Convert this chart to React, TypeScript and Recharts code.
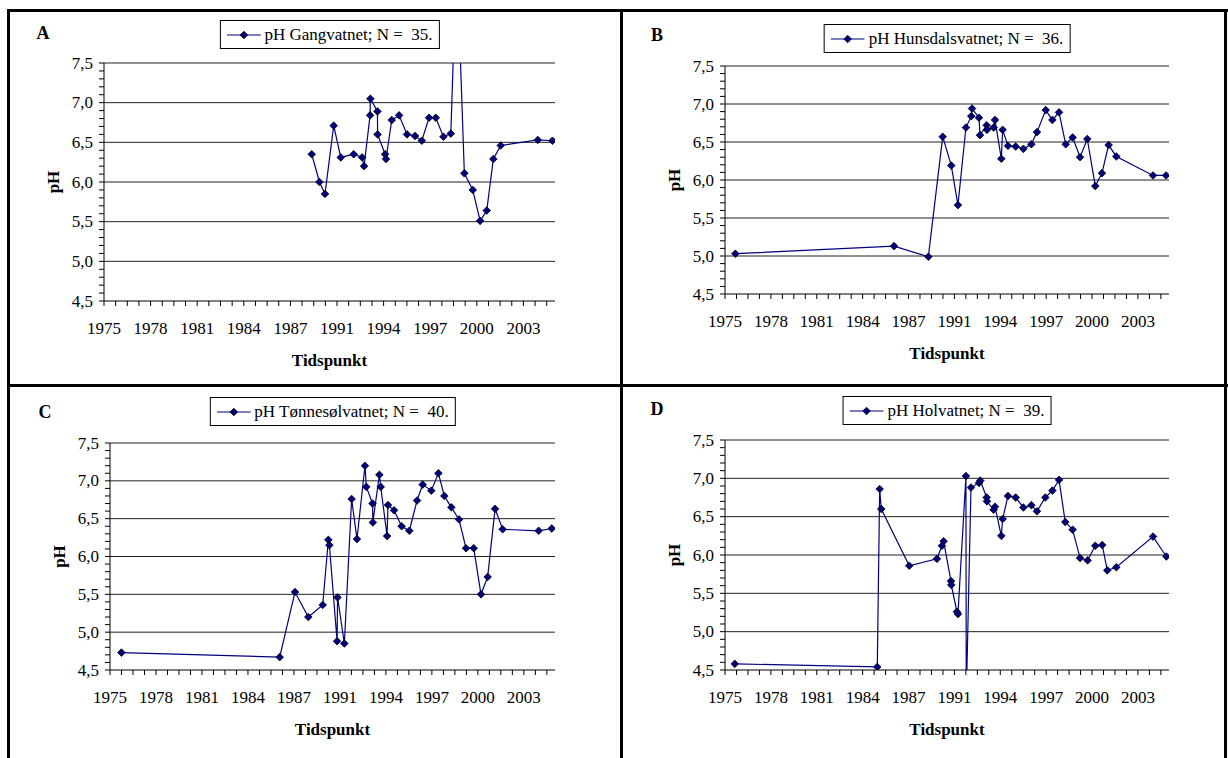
import React from 'react';
import { LineChart, Line, XAxis, YAxis, CartesianGrid, Label } from 'recharts';

// tick labels
const xTickLabels = ['1975', '1978', '1981', '1984', '1987', '1991', '1994', '1997', '2000', '2003'];
const yTickValues = [4.5, 5.0, 5.5, 6.0, 6.5, 7.0, 7.5];
const yTickLabels = ['4,5', '5,0', '5,5', '6,0', '6,5', '7,0', '7,5'];
const gridValues = [5.0, 5.5, 6.0, 6.5, 7.0, 7.5];

// A - Gangvatnet
const gangYears = [1989.32, 1989.83, 1990.2, 1990.78, 1991.25, 1992.11, 1992.67, 1992.8, 1993.2, 1993.22, 1993.69, 1993.7, 1994.2, 1994.26, 1994.64, 1995.13, 1995.66, 1996.19, 1996.64, 1997.12, 1997.57, 1998.08, 1998.57, 1998.96, 1999.47, 2000.03, 2000.52, 2000.96, 2001.4, 2001.89, 2004.35, 2005.33];
const gangPH = [6.35, 6.0, 5.85, 6.71, 6.31, 6.35, 6.31, 6.2, 6.84, 7.05, 6.89, 6.6, 6.35, 6.29, 6.78, 6.84, 6.6, 6.58, 6.52, 6.81, 6.81, 6.57, 6.61, 8.9, 6.11, 5.9, 5.51, 5.64, 6.29, 6.46, 6.53, 6.52];

// B - Hunsdalsvatnet
const hunsYears = [1976.2, 1986.92, 1989.24, 1990.21, 1990.79, 1991.24, 1991.78, 1992.14, 1992.19, 1992.66, 1992.73, 1993.18, 1993.2, 1993.65, 1993.74, 1994.17, 1994.26, 1994.62, 1995.14, 1995.66, 1996.2, 1996.58, 1997.17, 1997.62, 1998.07, 1998.52, 1998.99, 1999.49, 1999.98, 2000.52, 2000.97, 2001.42, 2001.94, 2004.42, 2005.3];
const hunsPH = [5.03, 5.13, 4.99, 6.57, 6.19, 5.67, 6.69, 6.84, 6.94, 6.82, 6.59, 6.72, 6.66, 6.69, 6.79, 6.28, 6.66, 6.45, 6.44, 6.41, 6.47, 6.63, 6.92, 6.79, 6.89, 6.47, 6.56, 6.3, 6.54, 5.92, 6.09, 6.46, 6.31, 6.06, 6.06];

// C - Tønnesølvatnet
const tonnYears = [1976.27, 1986.94, 1987.97, 1988.87, 1989.84, 1990.22, 1990.29, 1990.81, 1990.84, 1991.3, 1991.79, 1992.15, 1992.69, 1992.78, 1993.2, 1993.22, 1993.66, 1993.75, 1994.18, 1994.24, 1994.65, 1995.16, 1995.68, 1996.2, 1996.58, 1997.16, 1997.64, 1998.04, 1998.51, 1999.03, 1999.5, 2000.02, 2000.51, 2000.96, 2001.46, 2001.97, 2004.4, 2005.28];
const tonnPH = [4.73, 4.67, 5.53, 5.2, 5.36, 6.22, 6.15, 4.88, 5.46, 4.85, 6.76, 6.23, 7.2, 6.92, 6.7, 6.45, 7.08, 6.92, 6.27, 6.68, 6.61, 6.4, 6.34, 6.74, 6.95, 6.87, 7.1, 6.8, 6.65, 6.49, 6.11, 6.11, 5.5, 5.73, 6.63, 6.36, 6.34, 6.37];

// D - Holvatnet
const holvYears = [1976.16, 1985.79, 1985.95, 1986.06, 1987.95, 1989.82, 1990.16, 1990.27, 1990.77, 1990.79, 1991.17, 1991.24, 1991.78, 1991.8, 1992.12, 1992.66, 1992.75, 1993.18, 1993.2, 1993.65, 1993.74, 1994.17, 1994.26, 1994.62, 1995.14, 1995.66, 1996.2, 1996.58, 1997.14, 1997.62, 1998.07, 1998.49, 1998.99, 1999.49, 2000.0, 2000.52, 2000.99, 2001.33, 2001.94, 2004.42, 2005.32];
const holvPH = [4.58, 4.54, 6.86, 6.6, 5.86, 5.95, 6.12, 6.18, 5.66, 5.61, 5.26, 5.23, 7.03, 4.1, 6.88, 6.94, 6.97, 6.75, 6.7, 6.59, 6.63, 6.25, 6.47, 6.77, 6.75, 6.62, 6.65, 6.57, 6.75, 6.84, 6.98, 6.43, 6.33, 5.96, 5.93, 6.12, 6.13, 5.8, 5.84, 6.24, 5.98];

// axis setup (date axis, labels every 3.1 years, 4 minor steps between)
const X_START = 1975.5;
const X_END = 2005.5;
const LABEL_STEP = 3.1;
const MINOR = 4;
const xTicks = Array.from({ length: 39 }, (_, i) => X_START + (i * LABEL_STEP) / MINOR);
const yTicks = Array.from({ length: 31 }, (_, i) => Math.round((4.5 + i * 0.1) * 10) / 10);

const FONT = "'Liberation Serif', 'Times New Roman', serif";
const NAVY = '#000080';
const txt = { fontFamily: FONT, fontSize: 17 };

const toData = (years: number[], ph: number[]) => years.map((t, i) => ({ t, ph: ph[i] }));

function Diamond(props: any) {
  const { cx, cy } = props;
  if (cx == null || cy == null) return null;
  const s = 3.8;
  return (
    <path
      d={`M${cx},${cy - s}L${cx + s},${cy}L${cx},${cy + s}L${cx - s},${cy}Z`}
      fill={NAVY}
      stroke="#000"
      strokeWidth={0.8}
    />
  );
}

function XTick(props: any) {
  const { x, y, index } = props;
  const major = index % MINOR === 0;
  return (
    <g>
      <line x1={x} x2={x} y1={y} y2={y + 5} stroke="#000" strokeWidth={1} />
      {major && (
        <text x={x} y={y + 27} textAnchor="middle" dominantBaseline="central" style={txt} fill="#000">
          {xTickLabels[index / MINOR]}
        </text>
      )}
    </g>
  );
}

function YTick(props: any) {
  const { x, y, payload } = props;
  const idx = yTickValues.findIndex((v) => Math.abs(v - payload.value) < 1e-6);
  return (
    <g>
      <line x1={x - 5} x2={x} y1={y} y2={y} stroke="#000" strokeWidth={1} />
      {idx >= 0 && (
        <text x={x - 11} y={y} textAnchor="end" dominantBaseline="central" style={txt} fill="#000">
          {yTickLabels[idx]}
        </text>
      )}
    </g>
  );
}

interface PanelProps {
  letter: string;
  title: string;
  data: { t: number; ph: number }[];
  ox: number;
  oy: number;
  w: number;
  h: number;
  plot: { l: number; t: number; r: number; b: number };
  legendTop: number;
  letterPos: [number, number];
}

const Y_W = 40;
const X_H = 40;

function Panel({ letter, title, data, ox, oy, w, h, plot, legendTop, letterPos }: PanelProps) {
  const margin = {
    top: plot.t - oy,
    left: plot.l - ox - Y_W,
    right: ox + w - plot.r,
    bottom: oy + h - plot.b - X_H,
  };
  const legendCenter = (plot.l + plot.r) / 2;
  return (
    <>
      <div
        style={{
          position: 'absolute',
          left: letterPos[0],
          top: letterPos[1],
          transform: 'translate(-50%, -50%)',
          fontWeight: 'bold',
          fontSize: 18,
          fontFamily: FONT,
        }}
      >
        {letter}
      </div>
      <div
        style={{
          position: 'absolute',
          left: legendCenter,
          top: legendTop,
          transform: 'translateX(-50%)',
          border: '1px solid #000',
          background: '#fff',
          display: 'flex',
          alignItems: 'center',
          height: 27,
          padding: '0 6px 0 6px',
          fontFamily: FONT,
          fontSize: 17,
          whiteSpace: 'pre',
          zIndex: 2,
        }}
      >
        <svg width={34} height={12} style={{ marginRight: 4 }}>
          <line x1={0} x2={34} y1={6} y2={6} stroke={NAVY} strokeWidth={1.2} />
          <Diamond cx={17} cy={6} />
        </svg>
        {title}
      </div>
      <div style={{ position: 'absolute', left: ox, top: oy }}>
        <LineChart width={w} height={h} data={data} margin={margin} style={{ fontFamily: FONT }}>
          <CartesianGrid horizontal vertical={false} horizontalValues={gridValues} stroke="#222" strokeWidth={1} />
          <XAxis
            dataKey="t"
            type="number"
            domain={[X_START, X_END]}
            ticks={xTicks}
            interval={0}
            allowDataOverflow
            height={X_H}
            tickSize={0}
            tickMargin={0}
            tickLine={false}
            tick={<XTick />}
            stroke="#000"
          >
            <Label
              content={({ viewBox }: any) => (
                <text
                  x={viewBox.x + viewBox.width / 2}
                  y={viewBox.y + 59}
                  textAnchor="middle"
                  dominantBaseline="central"
                  style={{ ...txt, fontWeight: 'bold' }}
                >
                  Tidspunkt
                </text>
              )}
            />
          </XAxis>
          <YAxis
            type="number"
            domain={[4.5, 7.5]}
            ticks={yTicks}
            interval={0}
            allowDataOverflow
            width={Y_W}
            tickSize={0}
            tickMargin={0}
            tickLine={false}
            tick={<YTick />}
            stroke="#000"
          >
            <Label
              content={({ viewBox }: any) => {
                const cx = viewBox.x + viewBox.width - 51;
                const cy = viewBox.y + viewBox.height / 2;
                return (
                  <text
                    x={cx}
                    y={cy}
                    transform={`rotate(-90 ${cx} ${cy})`}
                    textAnchor="middle"
                    dominantBaseline="central"
                    style={{ ...txt, fontWeight: 'bold' }}
                  >
                    pH
                  </text>
                );
              }}
            />
          </YAxis>
          <Line
            type="linear"
            dataKey="ph"
            stroke={NAVY}
            strokeWidth={1.2}
            dot={<Diamond />}
            activeDot={false}
            isAnimationActive={false}
          />
        </LineChart>
      </div>
    </>
  );
}

const rule = (left: number, top: number, width: number, height: number) => (
  <div style={{ position: 'absolute', left, top, width, height, background: '#000', zIndex: 3 }} />
);

export default function App() {
  return (
    <div style={{ position: 'absolute', left: 0, top: 0, width: 1228, height: 758, background: '#fff', overflow: 'hidden', fontFamily: FONT }}>
      <style>{'body{overflow:hidden}'}</style>
      <Panel
        letter="A"
        title="pH Gangvatnet; N =  35."
        data={toData(gangYears, gangPH)}
        ox={10}
        oy={12}
        w={610}
        h={372}
        plot={{ l: 104, t: 63, r: 555, b: 301 }}
        legendTop={20}
        letterPos={[43, 33]}
      />
      <Panel
        letter="B"
        title="pH Hunsdalsvatnet; N =  36."
        data={toData(hunsYears, hunsPH)}
        ox={623}
        oy={12}
        w={600}
        h={372}
        plot={{ l: 725, t: 66, r: 1169, b: 294 }}
        legendTop={24}
        letterPos={[657, 35]}
      />
      <Panel
        letter="C"
        title="pH Tønnesølvatnet; N =  40."
        data={toData(tonnYears, tonnPH)}
        ox={10}
        oy={387}
        w={610}
        h={368}
        plot={{ l: 110, t: 443, r: 555, b: 670 }}
        legendTop={397}
        letterPos={[45, 412]}
      />
      <Panel
        letter="D"
        title="pH Holvatnet; N =  39."
        data={toData(holvYears, holvPH)}
        ox={623}
        oy={387}
        w={600}
        h={368}
        plot={{ l: 725, t: 440, r: 1169, b: 670 }}
        legendTop={396}
        letterPos={[657, 409]}
      />
      {rule(7, 9, 1221, 3)}
      {rule(7, 9, 3, 749)}
      {rule(620, 9, 3, 749)}
      {rule(1224, 9, 3, 749)}
      {rule(7, 384, 1221, 3)}
    </div>
  );
}
